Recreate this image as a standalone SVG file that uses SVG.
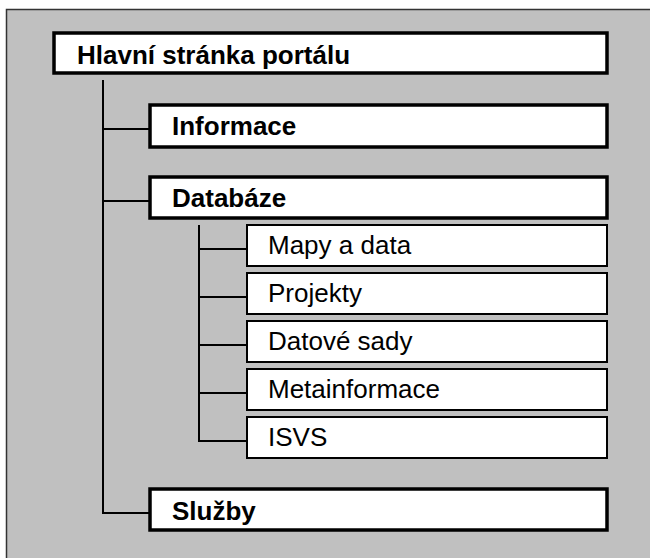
<svg xmlns="http://www.w3.org/2000/svg" width="650" height="558" viewBox="0 0 650 558">
<style>
.bg{fill:#c0c0c0;stroke:#333;stroke-width:1.5}
.main{fill:#fff;stroke:#000;stroke-width:3.5}
.sub{fill:#fff;stroke:#000;stroke-width:2}
.conn{stroke:#000;stroke-width:2;fill:none}
.tb{font-family:"Liberation Sans",Arial,sans-serif;font-size:26px;font-weight:bold;fill:#000}
.tr{font-family:"Liberation Sans",Arial,sans-serif;font-size:26px;fill:#000}
</style>
<rect x="0" y="0" width="650" height="558" fill="#fff"/>
<rect class="bg" x="6.5" y="9.5" width="650" height="560"/>
<g id="connectors">
<polyline class="conn" points="103,80 103,513 150,513"/>
<line class="conn" x1="103" y1="129" x2="150" y2="129"/>
<line class="conn" x1="103" y1="201" x2="150" y2="201"/>
<polyline class="conn" points="199,225 199,441 247,441"/>
<line class="conn" x1="199" y1="249" x2="247" y2="249"/>
<line class="conn" x1="199" y1="297" x2="247" y2="297"/>
<line class="conn" x1="199" y1="345" x2="247" y2="345"/>
<line class="conn" x1="199" y1="393" x2="247" y2="393"/>
</g>
<g id="hlavni"><rect class="main" x="54" y="33" width="553" height="40"/><text class="tb" x="77" y="64">Hlavní stránka portálu</text></g>
<g id="informace"><rect class="main" x="150" y="105" width="457" height="42"/><text class="tb" x="172" y="135">Informace</text></g>
<g id="databaze"><rect class="main" x="150" y="177" width="457" height="41"/><text class="tb" x="172" y="207">Databáze</text></g>
<g id="mapy"><rect class="sub" x="247" y="225" width="360" height="41"/><text class="tr" x="268" y="254">Mapy a data</text></g>
<g id="projekty"><rect class="sub" x="247" y="273" width="360" height="41"/><text class="tr" x="268" y="302">Projekty</text></g>
<g id="datove"><rect class="sub" x="247" y="321" width="360" height="41"/><text class="tr" x="268" y="350">Datové sady</text></g>
<g id="meta"><rect class="sub" x="247" y="369" width="360" height="41"/><text class="tr" x="268" y="398">Metainformace</text></g>
<g id="isvs"><rect class="sub" x="247" y="417" width="360" height="41"/><text class="tr" x="268" y="446">ISVS</text></g>
<g id="sluzby"><rect class="main" x="150" y="489" width="457" height="41"/><text class="tb" x="172" y="520">Služby</text></g>
</svg>
